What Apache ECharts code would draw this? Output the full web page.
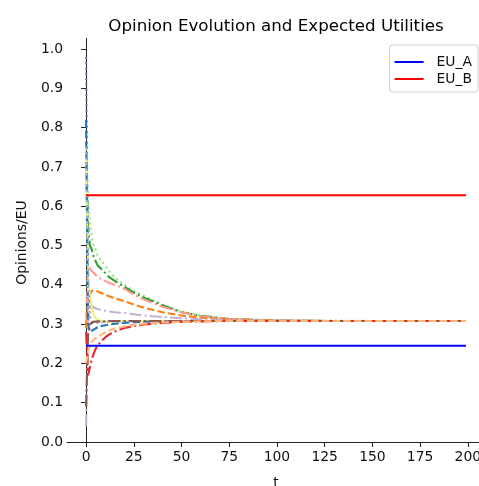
<!DOCTYPE html>
<html>
<head>
<meta charset="utf-8">
<script src="https://cdn.jsdelivr.net/npm/echarts@6/dist/echarts.min.js"></script>
<style>
  html, body { margin: 0; padding: 0; background: #fff; }
  #chart { width: 479px; height: 486px; }
</style>
</head>
<body>
<div id="chart"></div>
<script>
// time samples shared by every opinion trace
const tSteps = [0, 1, 2, 3, 4, 5, 6, 8, 10, 12, 15, 20, 25, 30, 40, 50, 60, 75, 100, 125, 150, 175, 199];

// opinion traces
const opLightGreen = [0.76, 0.62, 0.56, 0.52, 0.50, 0.49, 0.475, 0.46, 0.45, 0.435, 0.418, 0.40, 0.385, 0.372, 0.35, 0.332, 0.322, 0.313, 0.310, 0.309, 0.308, 0.308, 0.308];
const opGreen = [0.72, 0.55, 0.50, 0.49, 0.47, 0.46, 0.45, 0.44, 0.43, 0.42, 0.41, 0.395, 0.38, 0.368, 0.348, 0.33, 0.321, 0.313, 0.309, 0.308, 0.308, 0.308, 0.308];
const opPink = [0.30, 0.45, 0.44, 0.435, 0.43, 0.425, 0.42, 0.415, 0.41, 0.405, 0.40, 0.39, 0.375, 0.363, 0.344, 0.33, 0.32, 0.313, 0.309, 0.308, 0.308, 0.308, 0.308];
const opOrange = [0.29, 0.35, 0.375, 0.385, 0.386, 0.385, 0.383, 0.379, 0.375, 0.371, 0.366, 0.358, 0.35, 0.342, 0.33, 0.322, 0.316, 0.312, 0.309, 0.308, 0.308, 0.308, 0.308];
const opLavender = [0.04, 0.30, 0.35, 0.345, 0.342, 0.34, 0.338, 0.336, 0.334, 0.332, 0.33, 0.328, 0.325, 0.322, 0.318, 0.315, 0.312, 0.310, 0.309, 0.308, 0.308, 0.308, 0.308];
const opOlive = [0.72, 0.45, 0.37, 0.34, 0.325, 0.315, 0.31, 0.307, 0.306, 0.306, 0.307, 0.307, 0.308, 0.308, 0.308, 0.308, 0.308, 0.308, 0.308, 0.308, 0.308, 0.308, 0.308];
const opPurple = [0.98, 0.40, 0.32, 0.305, 0.303, 0.303, 0.304, 0.305, 0.306, 0.306, 0.307, 0.307, 0.308, 0.308, 0.308, 0.308, 0.308, 0.308, 0.308, 0.308, 0.308, 0.308, 0.308];
const opBlue = [0.82, 0.30, 0.28, 0.282, 0.286, 0.29, 0.292, 0.295, 0.297, 0.299, 0.301, 0.303, 0.305, 0.306, 0.307, 0.308, 0.308, 0.308, 0.308, 0.308, 0.308, 0.308, 0.308];
const opLightBlue = [0.75, 0.35, 0.31, 0.305, 0.304, 0.305, 0.305, 0.306, 0.306, 0.307, 0.307, 0.307, 0.308, 0.308, 0.308, 0.308, 0.308, 0.308, 0.308, 0.308, 0.308, 0.308, 0.308];
const opBrown = [0.09, 0.27, 0.30, 0.305, 0.306, 0.307, 0.307, 0.307, 0.307, 0.308, 0.308, 0.308, 0.308, 0.308, 0.308, 0.308, 0.308, 0.308, 0.308, 0.308, 0.308, 0.308, 0.308];
const opRed = [0.28, 0.17, 0.19, 0.21, 0.225, 0.237, 0.245, 0.257, 0.266, 0.273, 0.281, 0.29, 0.295, 0.299, 0.303, 0.306, 0.307, 0.308, 0.308, 0.308, 0.308, 0.308, 0.308];
const opPeach = [0.20, 0.23, 0.245, 0.255, 0.26, 0.264, 0.267, 0.273, 0.279, 0.284, 0.289, 0.294, 0.298, 0.301, 0.304, 0.306, 0.307, 0.308, 0.308, 0.308, 0.308, 0.308, 0.308];

// expected utilities (constant)
const euA = 0.245;
const euB = 0.628;

const xTicks = [0, 25, 50, 75, 100, 125, 150, 175, 200];
const yTicks = [0, 0.1, 0.2, 0.3, 0.4, 0.5, 0.6, 0.7, 0.8, 0.9, 1.0];

// matplotlib-like dash patterns at ~2px width
const dotted = [2, 3.3];
const dashed = [7.5, 3.2];
const dashdot = [12, 3.2, 2, 3.2];

const traces = [
  { v: opLightGreen, color: '#98df8a', dash: dotted },
  { v: opGreen, color: '#2ca02c', dash: dashdot },
  { v: opPink, color: '#ff9896', dash: dashdot },
  { v: opOrange, color: '#ff7f0e', dash: dashed },
  { v: opLavender, color: '#c5b0d5', dash: dashdot },
  { v: opOlive, color: '#f0f07a', dash: 'solid' },
  { v: opPurple, color: '#9467bd', dash: dotted },
  { v: opBlue, color: '#1f77b4', dash: dashed },
  { v: opLightBlue, color: '#aec7e8', dash: dotted },
  { v: opBrown, color: '#8c564b', dash: dashdot },
  { v: opRed, color: '#e8282a', dash: dashdot },
  { v: opPeach, color: '#ffbb78', dash: dashed }
];

const font = 'DejaVu Sans';

const series = traces.map(tr => ({
  type: 'line',
  symbol: 'none',
  silent: true,
  data: tSteps.map((t, i) => [t, tr.v[i]]),
  lineStyle: { color: tr.color, width: 2.1, type: tr.dash }
}));

series.push({
  name: 'EU_A',
  type: 'line',
  symbol: 'none',
  data: [[0, euA], [199, euA]],
  lineStyle: { color: '#0000ff', width: 2 },
  itemStyle: { color: '#0000ff' }
});
series.push({
  name: 'EU_B',
  type: 'line',
  symbol: 'none',
  data: [[0, euB], [199, euB]],
  lineStyle: { color: '#ff0000', width: 2 },
  itemStyle: { color: '#ff0000' }
});

const chart = echarts.init(document.getElementById('chart'));
chart.setOption({
  animation: false,
  backgroundColor: '#fff',
  title: {
    text: 'Opinion Evolution and Expected Utilities',
    left: 271,
    textAlign: 'center',
    top: 13,
    textStyle: { fontFamily: font, fontSize: 16.7, fontWeight: 'normal', color: '#000' }
  },
  legend: {
    data: ['EU_A', 'EU_B'],
    orient: 'vertical',
    right: 1,
    top: 45,
    icon: 'rect',
    itemWidth: 29,
    itemHeight: 2,
    itemGap: 3,
    padding: [10, 6, 6, 5],
    borderColor: '#d0d0d0',
    borderWidth: 1,
    borderRadius: 3,
    textStyle: { fontFamily: font, fontSize: 13.9, color: '#111', padding: [0, 0, 0, 8] }
  },
  grid: { left: 67, top: 38.4, width: 418, height: 408.3, outerBoundsMode: 'none' },
  xAxis: {
    type: 'value',
    min: -10,
    max: 209,
    name: 't',
    nameLocation: 'middle',
    nameGap: 30,
    nameTextStyle: { fontFamily: font, fontSize: 13.9, color: '#111' },
    splitLine: { show: false },
    axisLine: { lineStyle: { color: '#222', width: 1 } },
    axisTick: { length: 5, lineStyle: { color: '#222' }, customValues: xTicks },
    axisLabel: { customValues: xTicks, margin: 4, fontFamily: font, fontSize: 13.9, color: '#111' }
  },
  yAxis: {
    type: 'value',
    min: -0.012,
    max: 1.027,
    name: 'Opinions/EU',
    nameLocation: 'middle',
    nameGap: 38,
    nameTextStyle: { fontFamily: font, fontSize: 13.9, color: '#111' },
    splitLine: { show: false },
    axisLine: { show: true, lineStyle: { color: '#222', width: 1 } },
    axisTick: { show: true, length: 5, lineStyle: { color: '#222' }, customValues: yTicks },
    axisLabel: {
      customValues: yTicks,
      margin: 4,
      fontFamily: font,
      fontSize: 13.9,
      color: '#111',
      formatter: v => v.toFixed(1)
    }
  },
  series: series
});
</script>
</body>
</html>
